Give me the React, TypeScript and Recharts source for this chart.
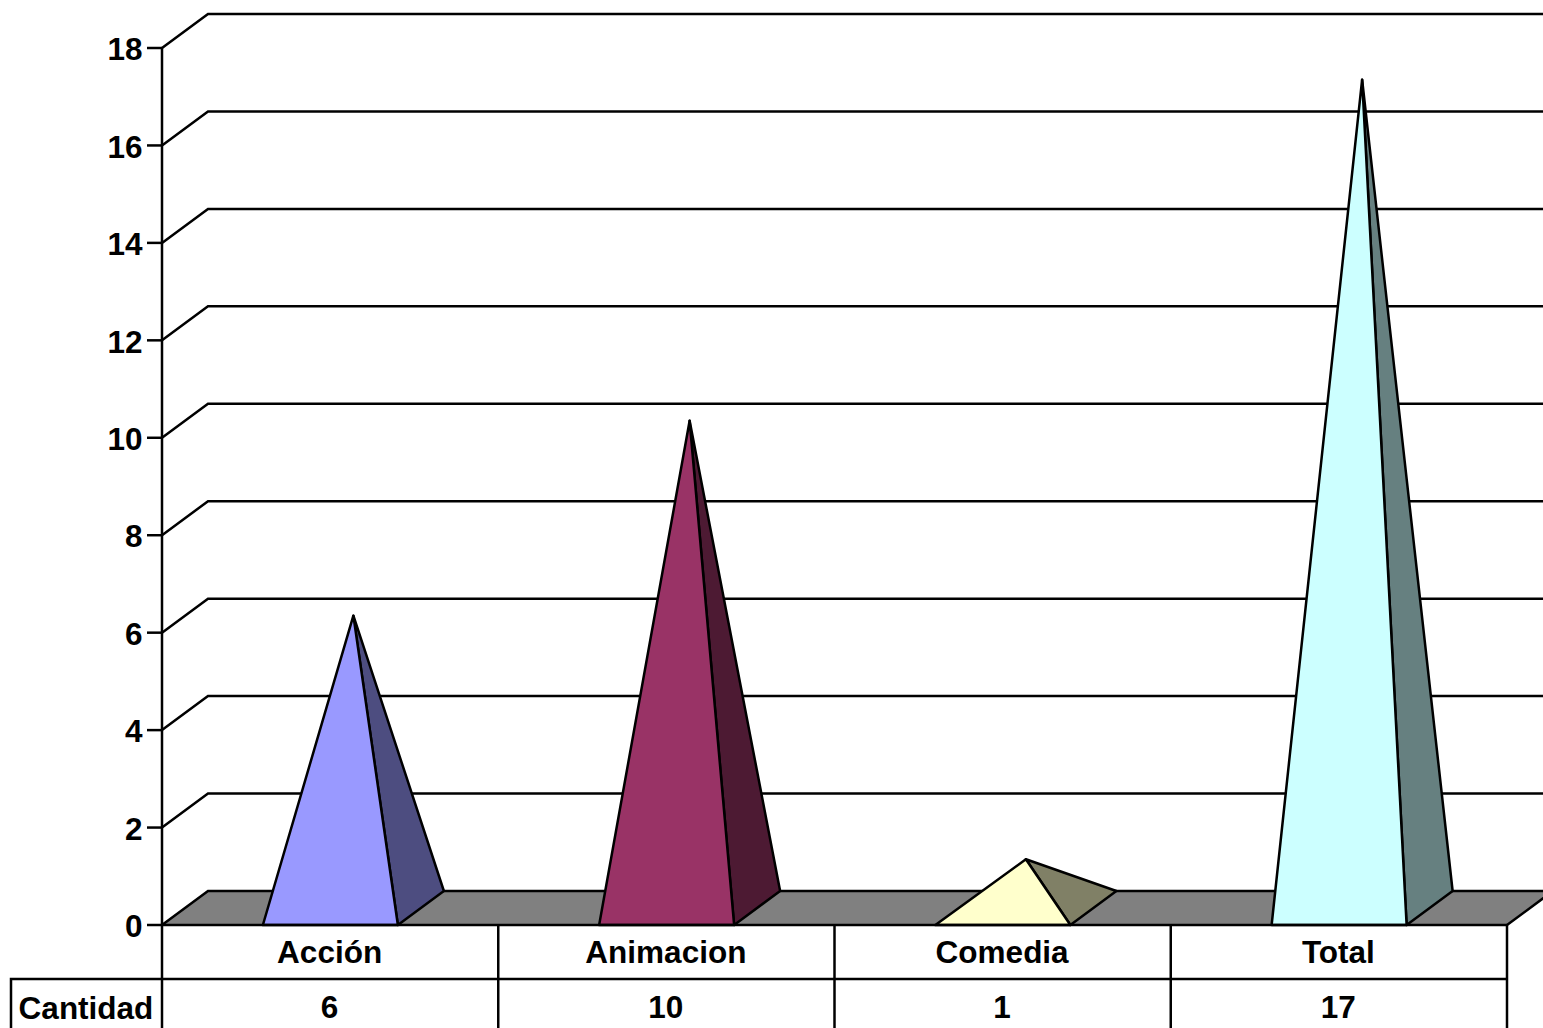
import { BarChart, Bar, XAxis, YAxis, CartesianGrid } from 'recharts';

const categories = ['Acción', 'Animacion', 'Comedia', 'Total'];
const cantidad = [6, 10, 1, 17];
const yTicks = [0, 2, 4, 6, 8, 10, 12, 14, 16, 18];
const rowLabel = 'Cantidad';

const data = categories.map((genero, i) => ({ genero, cantidad: cantidad[i] }));

const frontColors = ['#9999ff', '#993366', '#ffffcc', '#ccffff'];
const sideColors = ['#4d4d80', '#4d1a33', '#808066', '#668080'];

const WIDTH = 1543;
const HEIGHT = 1028;
const TABLE_HEIGHT = 103;
const MARGIN = { top: 48, right: 36, bottom: 0, left: 0 };
const BASE_Y = HEIGHT - TABLE_HEIGHT;

// depth of the fake 3D box
const DX = 46;
const DY = 34;
const FONT = '"Liberation Sans", Arial, sans-serif';
const FONT_SIZE = 31.5;
const INK = '#000';
const LINE = 2.5;

const GridLine = (props: any) => {
  const { x1, x2, y1 } = props;
  const isFloor = Math.abs(y1 - BASE_Y) < 1;
  return (
    <g>
      {isFloor && (
        <polygon
          points={`${x1},${y1} ${x1 + DX},${y1 - DY} ${x2 + DX},${y1 - DY} ${x2},${y1}`}
          fill="#808080"
          stroke="none"
        />
      )}
      <polyline
        points={`${x1},${y1} ${x1 + DX},${y1 - DY} ${x2 + DX},${y1 - DY}${isFloor ? ` ${x2},${y1}` : ''}`}
        fill="none"
        stroke={INK}
        strokeWidth={LINE}
      />
    </g>
  );
};

const Pyramid = (props: any) => {
  const { x, y, width, height, index } = props;
  const base = y + height;
  const apexX = x + width / 2 + DX / 2;
  const apexY = y - DY / 2;
  const right = x + width;
  return (
    <g stroke={INK} strokeWidth={LINE} strokeLinejoin="round">
      <polygon
        points={`${right},${base} ${right + DX},${base - DY} ${apexX},${apexY}`}
        fill={sideColors[index]}
      />
      <polygon points={`${x},${base} ${right},${base} ${apexX},${apexY}`} fill={frontColors[index]} />
    </g>
  );
};

// category axis doubles as the data table under the plot
const TableTick = (props: any) => {
  const { x, payload, index, width } = props;
  const band = width / categories.length;
  const left = x - band / 2;
  const right = x + band / 2;
  const rowY = BASE_Y + 54;
  const textProps = { fontFamily: FONT, fontWeight: 700, fontSize: FONT_SIZE, fill: INK, textAnchor: 'middle' as const };
  return (
    <g>
      <line x1={left} y1={BASE_Y} x2={left} y2={HEIGHT} stroke={INK} strokeWidth={LINE} />
      <line x1={left} y1={rowY} x2={right} y2={rowY} stroke={INK} strokeWidth={LINE} />
      {index === categories.length - 1 && (
        <line x1={right} y1={BASE_Y} x2={right} y2={HEIGHT} stroke={INK} strokeWidth={LINE} />
      )}
      {index === 0 && (
        <g>
          <polyline points={`11,${HEIGHT} 11,${rowY} ${left},${rowY}`} fill="none" stroke={INK} strokeWidth={LINE} />
          <text {...textProps} x={86} y={BASE_Y + 94}>
            {rowLabel}
          </text>
        </g>
      )}
      <text {...textProps} x={x - 0.5} y={BASE_Y + 38}>
        {payload.value}
      </text>
      <text {...textProps} x={x - 0.5} y={BASE_Y + 93}>
        {cantidad[index]}
      </text>
    </g>
  );
};

export default function App() {
  return (
    <div style={{ position: 'absolute', left: 0, top: 0, width: WIDTH, height: HEIGHT, overflow: 'hidden', background: '#fff' }}>
      <BarChart width={WIDTH} height={HEIGHT} data={data} margin={MARGIN} barCategoryGap="30%">
        <CartesianGrid horizontal={GridLine} vertical={false} />
        <XAxis
          dataKey="genero"
          height={TABLE_HEIGHT}
          interval={0}
          tickLine={false}
          tickSize={0}
          axisLine={{ stroke: INK, strokeWidth: LINE }}
          tick={TableTick}
        />
        <YAxis
          width={162}
          domain={[0, 18]}
          ticks={yTicks}
          interval={0}
          tickSize={15}
          tickMargin={4.5}
          axisLine={{ stroke: INK, strokeWidth: LINE }}
          tickLine={{ stroke: INK, strokeWidth: LINE }}
          tick={{ fontFamily: FONT, fontWeight: 700, fontSize: FONT_SIZE, fill: INK, dy: 1 }}
        />
        <Bar dataKey="cantidad" shape={Pyramid} isAnimationActive={false} />
      </BarChart>
    </div>
  );
}
